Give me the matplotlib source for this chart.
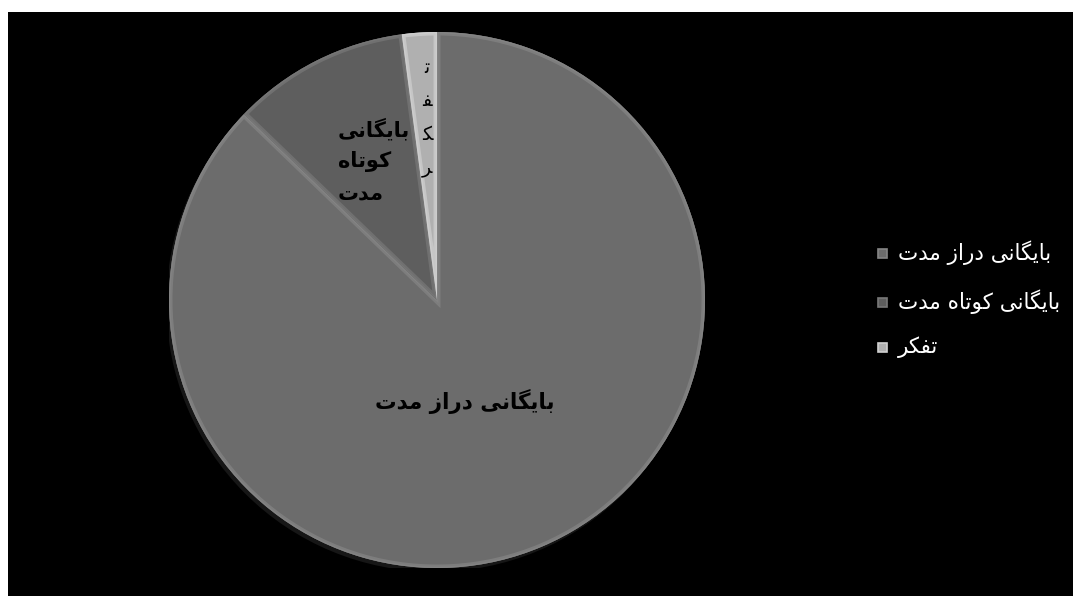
import matplotlib
matplotlib.use("Agg")
import matplotlib.pyplot as plt
from matplotlib.patches import Wedge, Circle, Rectangle

plt.rcParams['font.family'] = ['DejaVu Sans']

# data
labels = ['بایگانی دراز مدت', 'بایگانی کوتاه مدت', 'تفکر']
shares = [87.2, 10.7, 2.1]
colors = ['#6c6c6c', '#5e5e5e', '#b0b0b0']
rim_colors = ['#858585', '#787878', '#d0d0d0']

# matplotlib has no Arabic shaping, so pick the contextual glyphs by hand
FORMS = {
    'ا': ('\uFE8D', '\uFE8E', None, None),
    'ب': ('\uFE8F', '\uFE90', '\uFE91', '\uFE92'),
    'ت': ('\uFE95', '\uFE96', '\uFE97', '\uFE98'),
    'د': ('\uFEA9', '\uFEAA', None, None),
    'ر': ('\uFEAD', '\uFEAE', None, None),
    'ز': ('\uFEAF', '\uFEB0', None, None),
    'ف': ('\uFED1', '\uFED2', '\uFED3', '\uFED4'),
    'ک': ('\uFB8E', '\uFB8F', '\uFB90', '\uFB91'),
    'گ': ('\uFB92', '\uFB93', '\uFB94', '\uFB95'),
    'م': ('\uFEE1', '\uFEE2', '\uFEE3', '\uFEE4'),
    'ن': ('\uFEE5', '\uFEE6', '\uFEE7', '\uFEE8'),
    'ه': ('\uFEE9', '\uFEEA', '\uFEEB', '\uFEEC'),
    'و': ('\uFEED', '\uFEEE', None, None),
    'ی': ('\uFBFC', '\uFBFD', '\uFBFE', '\uFBFF'),
}


def dual(c):
    return c in FORMS and FORMS[c][2] is not None


def shape(word):
    out = []
    for i, c in enumerate(word):
        if c not in FORMS:
            out.append(c)
            continue
        prev = word[i - 1] if i > 0 else ''
        nxt = word[i + 1] if i + 1 < len(word) else ''
        join_prev = dual(prev)
        join_next = dual(c) and nxt in FORMS
        iso, fin, ini, med = FORMS[c]
        if join_prev and join_next:
            out.append(med)
        elif join_prev:
            out.append(fin)
        elif join_next:
            out.append(ini)
        else:
            out.append(iso)
    return ''.join(out)


def rtl(text):
    # shape then reverse for left-to-right drawing
    return '\n'.join(shape(line)[::-1] for line in text.split('\n'))


W, H = 1073, 596
fig = plt.figure(figsize=(W / 100, H / 100), dpi=100, facecolor='white')
fig.add_artist(Rectangle((8 / W, 0), 1, (H - 12) / H, transform=fig.transFigure,
                         facecolor='black', edgecolor='none', zorder=0))

# pie centre (437, 300) px, radius 268 px
cx, cy, r = 437, 300, 268
ax = fig.add_axes([(cx - r) / W, (H - cy - r) / H, 2 * r / W, 2 * r / H])

ax.add_patch(Circle((-0.01, -0.014), 1.0, facecolor='#161616', edgecolor='none', zorder=0))

wedges, _ = ax.pie(shares, colors=colors, startangle=90, counterclock=False,
                   radius=1, wedgeprops=dict(edgecolor='none', zorder=2))
ax.set_xlim(-1, 1)
ax.set_ylim(-1, 1)
ax.axis('off')

# bevel: a light edge clipped to the inside of each slice
for w, rc in zip(wedges, rim_colors):
    w.set_zorder(2)
    bev = Wedge(w.center, w.r, w.theta1, w.theta2, facecolor='none',
                edgecolor=rc, linewidth=5, alpha=0.7, zorder=3)
    ax.add_patch(bev)
    bev.set_clip_path(w)
    bev2 = Wedge(w.center, w.r, w.theta1, w.theta2, facecolor='none',
                 edgecolor=rc, linewidth=2, alpha=0.8, zorder=3)
    ax.add_patch(bev2)
    bev2.set_clip_path(w)

# slice labels
ax.text(0.105, -0.38, rtl(labels[0]), ha='center', va='center',
        fontsize=15.5, fontweight='bold', color='black', zorder=5)
ax.text(-0.37, 0.52, rtl('بایگانی\nکوتاه\nمدت'), ha='left', va='center',
        fontsize=15, fontweight='bold', color='black', linespacing=1.7, zorder=5)
think = shape(labels[2])
ax.text(-0.037, 0.68, '\n'.join(think), ha='center', va='center',
        fontsize=13.5, color='black', linespacing=1.95, zorder=5)

# legend
leg_y = [253, 302, 347]
for lab, col, rc, y in zip(labels, colors, rim_colors, leg_y):
    fig.add_artist(Rectangle((878 / W, (H - y - 4.5) / H), 9 / W, 9 / H,
                             transform=fig.transFigure, facecolor=col,
                             edgecolor=rc, linewidth=1.2, zorder=4))
    fig.text(898 / W, (H - y) / H, rtl(lab), ha='left', va='center',
             fontsize=15.5, color='white', zorder=4)

fig.savefig('out.png', dpi=100, facecolor='white')
